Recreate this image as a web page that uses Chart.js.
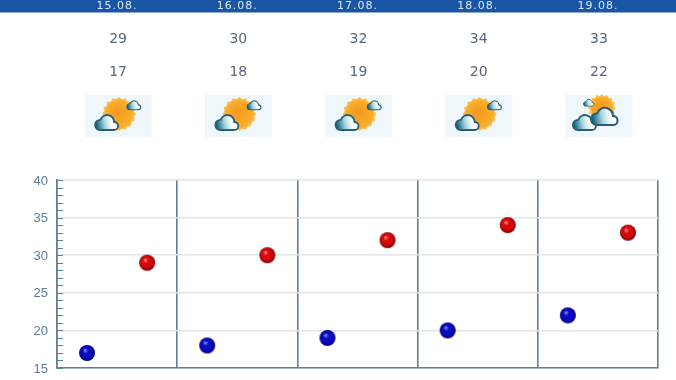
<!DOCTYPE html>
<html>
<head>
<meta charset="utf-8">
<style>
  html, body { margin: 0; padding: 0; background: #fff; }
  canvas { display: block; }
</style>
<script src="https://cdn.jsdelivr.net/npm/chart.js@4"></script>
</head>
<body>
<div style="width:676px;height:380px"><canvas id="myChart" width="676" height="380"></canvas></div>
<script>
const dates = ['15.08.', '16.08.', '17.08.', '18.08.', '19.08.'];
const highs = [29, 30, 32, 34, 33];
const lows = [17, 18, 19, 20, 22];
const iconKinds = ['sun', 'sun', 'sun', 'sun', 'cloud'];

const axisColor = '#5f7f9b';

// shaded ball used as point marker
function ball(light, mid, dark) {
  const c = document.createElement('canvas');
  c.width = 18;
  c.height = 18;
  const g = c.getContext('2d');
  const grad = g.createRadialGradient(7, 6, 0.5, 9, 9, 8);
  grad.addColorStop(0, light);
  grad.addColorStop(0.3, mid);
  grad.addColorStop(0.7, mid);
  grad.addColorStop(1, dark);
  g.fillStyle = grad;
  g.beginPath();
  g.arc(9, 9, 8, 0, Math.PI * 2);
  g.fill();
  return c;
}

function cloud(g, x, y, s) {
  g.save();
  g.translate(x, y);
  g.scale(s, s);
  const grad = g.createLinearGradient(-11, 2, 8, -2);
  grad.addColorStop(0, '#0b5f7c');
  grad.addColorStop(0.45, '#a9d5e2');
  grad.addColorStop(0.8, '#ffffff');
  g.beginPath();
  g.moveTo(-7, 7);
  g.arc(-7, 2, 5, Math.PI / 2, Math.PI * 1.4);
  g.arc(0, -1, 7, Math.PI * 1.1, Math.PI * 1.9);
  g.arc(7, 3, 4, Math.PI * 1.5, Math.PI / 2);
  g.closePath();
  g.fillStyle = grad;
  g.fill();
  g.lineWidth = 1.8;
  g.strokeStyle = '#2a5f73';
  g.stroke();
  g.restore();
}

function sun(g, x, y, r) {
  const grad = g.createRadialGradient(x - 2, y - 2, 2, x, y, r);
  grad.addColorStop(0, '#f59a1e');
  grad.addColorStop(1, '#fab12e');
  g.fillStyle = '#fbbd4c';
  g.beginPath();
  for (let i = 0; i < 32; i++) {
    const a = i * Math.PI / 16;
    const rr = i % 2 ? r : r + 2;
    g.lineTo(x + Math.cos(a) * rr, y + Math.sin(a) * rr);
  }
  g.closePath();
  g.fill();
  g.fillStyle = grad;
  g.beginPath();
  g.arc(x, y, r - 1, 0, Math.PI * 2);
  g.fill();
}

const headerPlugin = {
  id: 'header',
  beforeDraw(chart) {
    const g = chart.ctx;
    const xs = chart.scales.x;
    g.save();
    g.fillStyle = '#1a55a5';
    g.fillRect(0, 0, 676, 12.5);
    g.textAlign = 'center';
    g.textBaseline = 'middle';
    dates.forEach((d, i) => {
      const cx = xs.getPixelForValue(i * 2 + 1);
      g.font = '11px "DejaVu Sans"';
      g.letterSpacing = '1px';
      g.fillStyle = '#dce8f4';
      g.fillText(d, cx, 6);
      g.letterSpacing = '0px';
      g.font = '14px "DejaVu Sans"';
      g.fillStyle = '#56677d';
      g.fillText(highs[i], cx + 1, 39);
      g.fillText(lows[i], cx + 1, 72);
      const ix = cx + 1;
      g.fillStyle = '#eff7fb';
      g.fillRect(ix - 33.5, 95, 67, 42);
      if (iconKinds[i] === 'sun') {
        sun(g, ix + 1, 114, 15);
        cloud(g, ix + 16, 105.5, 0.6);
        cloud(g, ix - 11, 123, 1);
      } else {
        sun(g, ix + 3, 108, 12);
        cloud(g, ix - 10, 103, 0.45);
        cloud(g, ix - 14, 123, 1);
        cloud(g, ix + 6, 117, 1.15);
      }
    });
    g.restore();
  }
};

// small ticks on the inner side of the y axis
const innerTicks = {
  id: 'innerTicks',
  afterDatasetsDraw(chart) {
    const g = chart.ctx;
    const ys = chart.scales.y;
    g.save();
    g.strokeStyle = axisColor;
    g.lineWidth = 1;
    ys.ticks.forEach(t => {
      const y = Math.round(ys.getPixelForValue(t.value)) + 0.5;
      g.beginPath();
      g.moveTo(ys.right, y);
      g.lineTo(ys.right + 6, y);
      g.stroke();
    });
    g.restore();
  }
};

const ctx = document.getElementById('myChart').getContext('2d');

new Chart(ctx, {
  type: 'scatter',
  data: {
    datasets: [
      {
        label: 'min',
        data: lows.map((v, i) => ({ x: i * 2 + 0.5, y: v })),
        pointStyle: ball('#8080f8', '#0a0ac0', '#00006a')
      },
      {
        label: 'max',
        data: highs.map((v, i) => ({ x: i * 2 + 1.5, y: v })),
        pointStyle: ball('#ff8080', '#d80808', '#6a0000')
      }
    ]
  },
  options: {
    responsive: false,
    animation: false,
    layout: { padding: { top: 180, right: 18, bottom: 12, left: 0 } },
    plugins: { legend: { display: false }, tooltip: { enabled: false } },
    scales: {
      x: {
        min: 0,
        max: 10,
        ticks: { display: false, stepSize: 2 },
        grid: { color: axisColor, lineWidth: 1.6, drawTicks: false },
        border: { color: axisColor, width: 1.6 }
      },
      y: {
        min: 15,
        max: 40,
        afterFit(scale) {
          scale.width = 57;
          scale.paddingBottom = 0;
          scale.paddingTop = 0;
        },
        ticks: {
          stepSize: 1,
          autoSkip: false,
          padding: 9,
          labelOffset: 1,
          color: '#5d7a96',
          font: { family: '"Liberation Sans"', size: 13 },
          callback: v => (v % 5 === 0 ? v : '')
        },
        grid: {
          // light horizontal lines stay under the vertical ones
          z: -1,
          drawTicks: false,
          lineWidth: 1.5,
          color: c => (c.tick.value % 5 === 0 ? '#e2e5e8' : 'rgba(0,0,0,0)')
        },
        border: { color: axisColor, width: 1.6 }
      }
    }
  },
  plugins: [headerPlugin, innerTicks]
});
</script>
</body>
</html>
